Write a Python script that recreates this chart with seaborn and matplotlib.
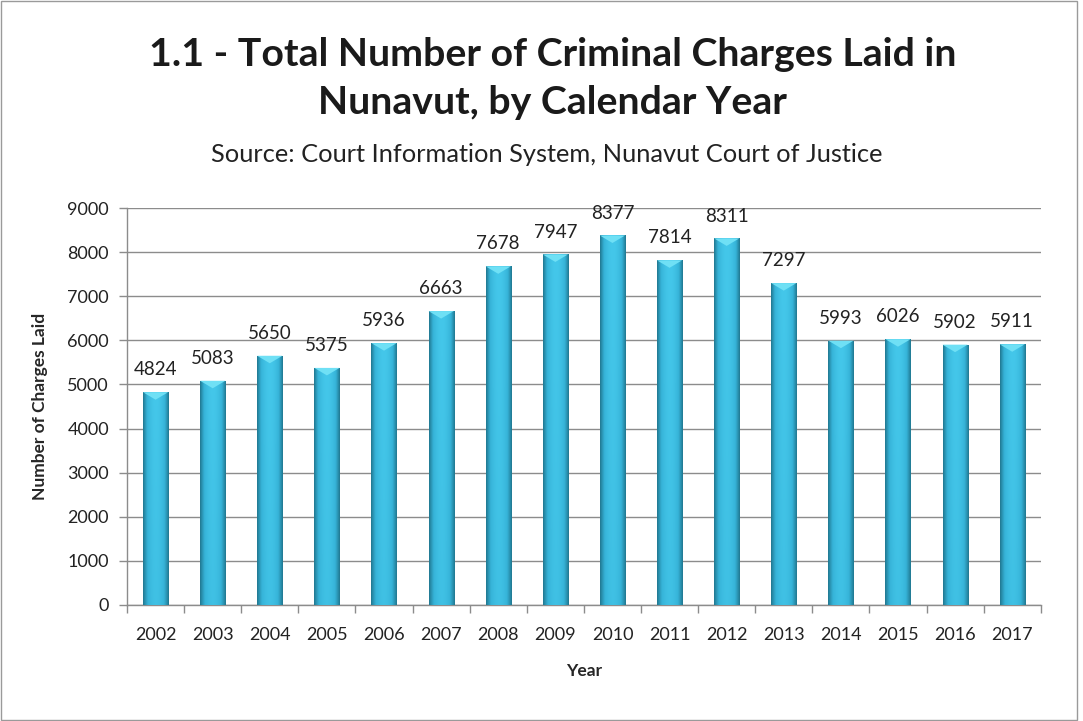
import numpy as np
import pandas as pd
import matplotlib
matplotlib.use("Agg")
import matplotlib.pyplot as plt
import seaborn as sns
from matplotlib.colors import LinearSegmentedColormap
from matplotlib.patches import Rectangle

years = ["2002", "2003", "2004", "2005", "2006", "2007", "2008", "2009",
         "2010", "2011", "2012", "2013", "2014", "2015", "2016", "2017"]
charges = [4824, 5083, 5650, 5375, 5936, 6663, 7678, 7947,
           8377, 7814, 8311, 7297, 5993, 6026, 5902, 5911]
yticks = [0, 1000, 2000, 3000, 4000, 5000, 6000, 7000, 8000, 9000]

title_lines = ["1.1 - Total Number of Criminal Charges Laid in", "Nunavut, by Calendar Year"]
subtitle = "Source: Court Information System, Nunavut Court of Justice"

sns.set_theme(style="white")
plt.rcParams["font.family"] = ["Lato", "DejaVu Sans"]

df = pd.DataFrame({"Year": years, "Charges": charges})

fig = plt.figure(figsize=(10.83, 7.21), dpi=100)
ax = fig.add_axes([0.1173, 0.1609, 0.8437, 0.5506])

sns.barplot(data=df, x="Year", y="Charges", ax=ax, color="#33a9c9",
            width=0.44, saturation=1, zorder=3)

ax.set_ylim(0, 9000)
ax.set_xlim(-0.5, len(years) - 0.5)
ax.set_yticks(yticks)
ax.set_yticklabels([str(v) for v in yticks], fontsize=13, color="#222222")
ax.yaxis.grid(True, color="#8c8c8c", linewidth=1.0, zorder=0)
ax.set_axisbelow(True)

# Excel-style category tick marks between bars
ax.set_xticks(range(len(years)))
ax.set_xticklabels(years, fontsize=13, color="#222222")
ax.tick_params(axis="x", which="major", length=0, pad=16)
ax.set_xticks(np.arange(-0.5, len(years), 1.0), minor=True)
ax.tick_params(axis="x", which="minor", length=6, color="#8c8c8c", width=1, direction="out", bottom=True)
ax.tick_params(axis="y", length=6, color="#8c8c8c", width=1, direction="out", left=True, pad=7)

for s in ["top", "right"]:
    ax.spines[s].set_visible(False)
for s in ["left", "bottom"]:
    ax.spines[s].set_color("#8c8c8c")
    ax.spines[s].set_linewidth(1.0)

ax.set_xlabel("Year", fontsize=12.5, fontweight="bold", labelpad=14)
ax.set_ylabel("Number of Charges Laid", fontsize=12.5, fontweight="bold", labelpad=14)

# gradient fill for bars
xs = np.linspace(0, 1, 64)
horiz = np.sin(np.pi * xs)
vert = np.linspace(0.82, 1.0, 64)[:, None]
grad = 0.35 + 0.65 * (horiz[None, :] * vert)
bar_cmap = LinearSegmentedColormap.from_list("b", ["#1d6f86", "#36b3d8", "#44c7ea"])
for patch in ax.patches:
    x0 = patch.get_x()
    w = patch.get_width()
    h = patch.get_height()
    patch.set_edgecolor("none")
    img = ax.imshow(grad, extent=[x0, x0 + w, 0, h], origin="lower",
                    cmap=bar_cmap, vmin=0.3, vmax=1.0, aspect="auto", zorder=3.5)
    img.set_clip_path(patch)
    ax.fill([x0, x0 + w, x0 + w / 2], [h, h, h - 170], color="#6fe0f5", zorder=4, lw=0)
ax.set_xlim(-0.5, len(years) - 0.5)
ax.set_ylim(0, 9000)

for i, v in enumerate(charges):
    ax.annotate(str(v), (i, v), xytext=(0, 10), textcoords="offset points",
                ha="center", va="bottom", fontsize=13.5, color="#222222", zorder=5)

fig.text(0.51, 1 - 55 / 721, title_lines[0], ha="center", va="center", fontsize=28.3,
         fontweight="bold", color="#1a1a1a")
fig.text(0.51, 1 - 103 / 721, title_lines[1], ha="center", va="center", fontsize=28.3,
         fontweight="bold", color="#1a1a1a")
fig.text(0.5045, 1 - 155 / 721, subtitle, ha="center", va="center", fontsize=18.3, color="#222222")

fig.patches.append(Rectangle((0.0008, 0.0014), 0.9935, 0.997, transform=fig.transFigure,
                             fill=False, edgecolor="#9a9a9a", linewidth=1.0))

fig.savefig("out.png", dpi=100)
